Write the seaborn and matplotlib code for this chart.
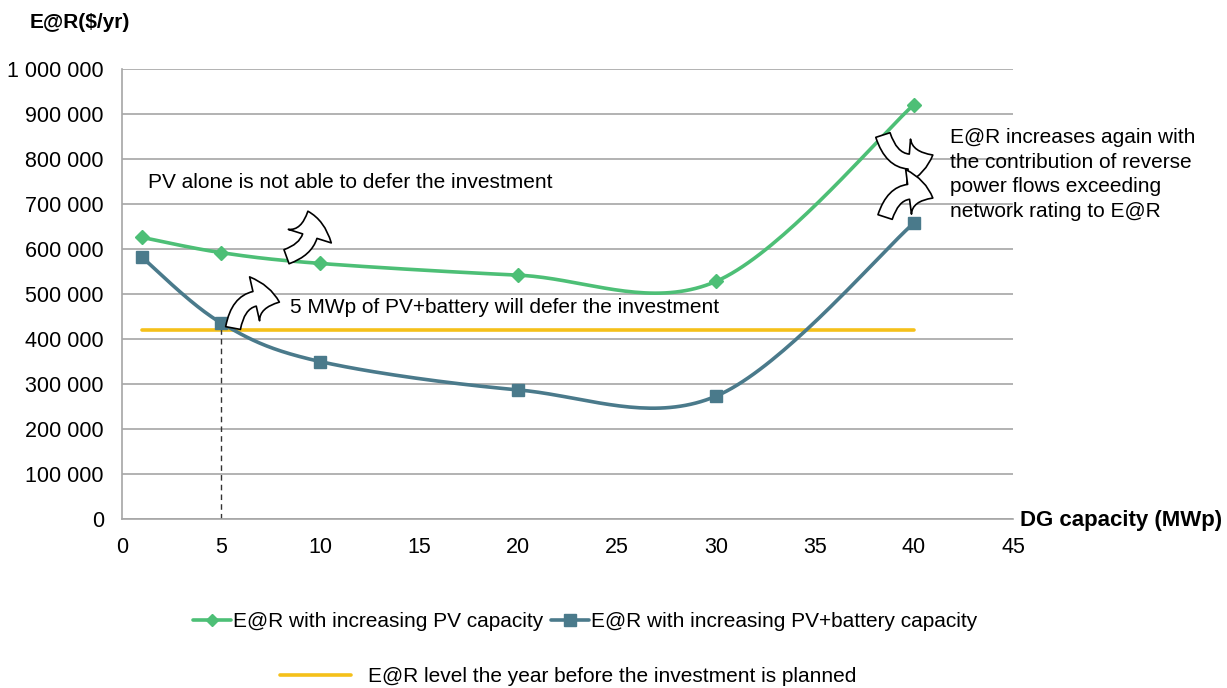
import numpy as np
import pandas as pd
import seaborn as sns
import matplotlib.pyplot as plt
from matplotlib.lines import Line2D

capacity = [1, 5, 10, 20, 30, 40]
er_pv = [626000, 592000, 568000, 542000, 528000, 921000]
er_pv_batt = [582000, 436000, 350000, 287000, 273000, 658000]
er_level = 420000
x_ticks = [0, 5, 10, 15, 20, 25, 30, 35, 40, 45]
y_ticks = [0, 100000, 200000, 300000, 400000, 500000, 600000, 700000, 800000, 900000, 1000000]

green = '#4dbf76'
blue = '#4a7a8b'
yellow = '#f5c01a'


def smooth(xs, ys, n=40):
    # excel-like bezier smoothing through the points
    p = np.column_stack([xs, ys]).astype(float)
    t = np.linspace(0, 1, n)[:, None]
    out = []
    for i in range(len(p) - 1):
        p0 = p[max(i - 1, 0)]
        p1 = p[i]
        p2 = p[i + 1]
        p3 = p[min(i + 2, len(p) - 1)]
        c1 = p1 + (p2 - p0) / 6
        c2 = p2 - (p3 - p1) / 6
        seg = (1 - t) ** 3 * p1 + 3 * (1 - t) ** 2 * t * c1 + 3 * (1 - t) * t ** 2 * c2 + t ** 3 * p2
        out.append(seg if i == 0 else seg[1:])
    out = np.vstack(out)
    return pd.DataFrame({'x': out[:, 0], 'y': out[:, 1]})


sns.set_style('white')
plt.rcParams['font.family'] = ['Liberation Sans', 'DejaVu Sans']
plt.rcParams['text.color'] = 'black'

fig = plt.figure(figsize=(12.27, 6.88), dpi=100)
ax = fig.add_axes([0.0994, 0.2456, 0.7262, 0.6541])

ax.set_xlim(0, 45)
ax.set_ylim(0, 1000000)
ax.set_yticks(y_ticks)
ax.set_xticks(x_ticks)
ax.set_yticklabels([f'{v:,}'.replace(',', ' ') for v in y_ticks], fontsize=15.5)
ax.set_xticklabels([str(v) for v in x_ticks], fontsize=15.5)
ax.yaxis.grid(True, color='#a6a6a6', linewidth=1.2)
ax.set_axisbelow(True)
for s in ['top', 'right']:
    ax.spines[s].set_visible(False)
for s in ['left', 'bottom']:
    ax.spines[s].set_color('#a6a6a6')
    ax.spines[s].set_linewidth(1.2)
ax.tick_params(axis='both', direction='out', length=6, color='#a6a6a6', width=1.2,
               labelcolor='black', pad=7)

# level line
sns.lineplot(x=[capacity[0], capacity[-1]], y=[er_level, er_level], ax=ax, color=yellow, linewidth=2.6)

# dashed marker line at 5 MWp
ax.vlines(capacity[1], 0, er_pv_batt[1], colors='#333333', linestyles=(0, (4, 3)), linewidth=1)

c1 = smooth(capacity, er_pv)
c2 = smooth(capacity, er_pv_batt)
sns.lineplot(data=c1, x='x', y='y', ax=ax, color=green, linewidth=2.6, sort=False, estimator=None)
sns.lineplot(data=c2, x='x', y='y', ax=ax, color=blue, linewidth=2.6, sort=False, estimator=None)
ax.plot(capacity, er_pv, linestyle='none', marker='D', markersize=7, color=green)
ax.plot(capacity, er_pv_batt, linestyle='none', marker='s', markersize=9, color=blue)
ax.set_xlabel('')
ax.set_ylabel('')

# annotations
ax.text(1.31, 746700, 'PV alone is not able to defer the investment', fontsize=15, va='center', ha='left')
ax.text(8.48, 471000, '5 MWp of PV+battery will defer the investment', fontsize=15, va='center', ha='left')
ax.text(41.8, 868000, 'E@R increases again with\nthe contribution of reverse\npower flows exceeding\nnetwork rating to E@R',
        fontsize=15, va='top', ha='left', linespacing=1.36, clip_on=False)

arrows = [
    ((8.31, 582900), (9.39, 684000), 0.5),
    ((5.61, 424400), (7.95, 482000), -0.6),
    ((38.43, 853300), (40.95, 808900), 0.6),
    ((38.54, 671100), (40.95, 713300), -0.6),
]
for tail, tip, rad in arrows:
    ax.annotate('', xy=tip, xytext=tail, annotation_clip=False,
                arrowprops=dict(arrowstyle='simple,head_length=0.75,head_width=1.35,tail_width=0.45',
                                connectionstyle=f'arc3,rad={rad}', fc='white', ec='black',
                                lw=1.2, mutation_scale=24, shrinkA=0, shrinkB=0))

fig.text(0.0244, 0.968, 'E@R($/yr)', fontsize=15, fontweight='bold', va='center', ha='left')
fig.text(0.8315, 0.243, 'DG capacity (MWp)', fontsize=16, fontweight='bold', va='center', ha='left')

h1 = [Line2D([], [], color=green, lw=2.6, marker='D', markersize=6),
      Line2D([], [], color=blue, lw=2.6, marker='s', markersize=8)]
fig.legend(h1, ['E@R with increasing PV capacity', 'E@R with increasing PV+battery capacity'],
           loc='center', bbox_to_anchor=(0.477, 0.096), ncol=2, frameon=False, fontsize=15,
           handlelength=1.8, handletextpad=0.1, columnspacing=0.4)
h2 = [Line2D([], [], color=yellow, lw=2.6)]
fig.legend(h2, ['E@R level the year before the investment is planned'],
           loc='center', bbox_to_anchor=(0.463, 0.016), frameon=False, fontsize=15,
           handlelength=3.4, handletextpad=0.8)

fig.savefig('out.png', dpi=100)
